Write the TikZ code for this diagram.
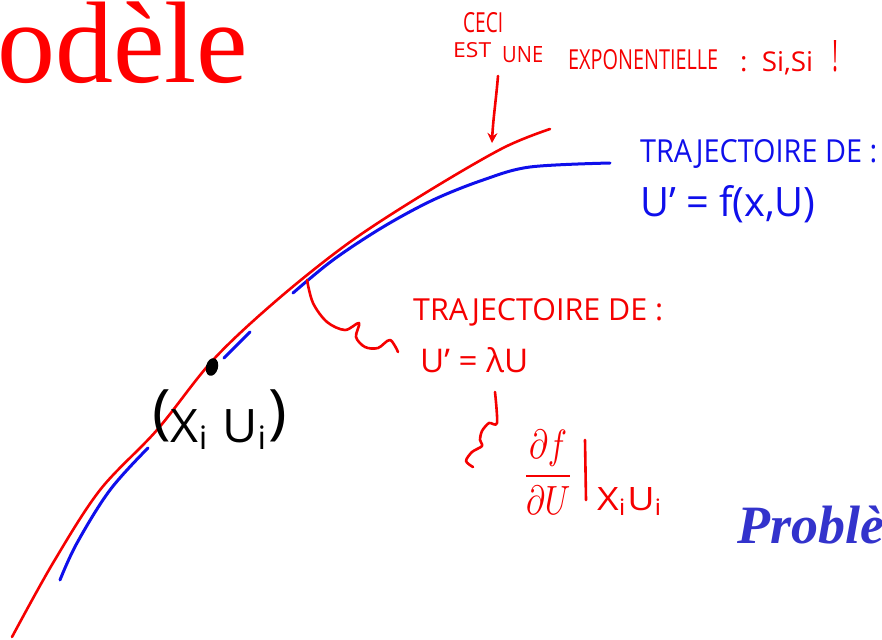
\documentclass[tikz,border=0pt]{standalone}
\usepackage{fontspec}
\usepackage{graphicx}
\setmainfont{Liberation Serif}
\newfontfamily\hand{Open Sans}
\usetikzlibrary{arrows.meta,shapes.geometric}
\definecolor{hred}{RGB}{245,0,0}
\definecolor{hblue}{RGB}{15,15,235}
\definecolor{pblue}{RGB}{51,51,204}
\newcommand\handtxt[3]{\resizebox{#1pt}{#2pt}{\hand #3}}
\begin{document}
\begin{tikzpicture}[x=1pt,y=-1pt,
  lbl/.style={inner sep=0pt, anchor=base west},
  redink/.style={draw=hred, line width=2.6pt, line cap=round, line join=round},
  blueink/.style={draw=hblue, line width=3pt, line cap=round, line join=round}]
\useasboundingbox (0,0) rectangle (882,639);

% slide titles (cut off)
\node[lbl, text=red, font=\fontsize{116}{116}\selectfont] (title) at (-3,83) {odèle};
\node[lbl, text=pblue, font=\fontsize{54}{54}\selectfont\bfseries\itshape] (prob) at (737,543) {Problè};

% red trajectory (u' = lambda u)
\draw[redink] plot[smooth, tension=0.55] coordinates {(12,637) (53,563) (100,490) (157,430) (213,360) (277,300) (350,242) (427,192) (503,148) (550,129)};

% blue trajectory (u' = f(x,u))
\draw[blueink] plot[smooth, tension=0.6] coordinates {(60,580) (77,543) (110,490) (148,448)};
\draw[blueink] (224,358) -- (250,332);
\draw[blueink] plot[smooth, tension=0.55] coordinates {(293,293) (333,260) (383,227) (433,200) (483,180) (530,167) (610,163)};

% point (x_i, u_i)
\node[ellipse, fill=black, inner sep=0pt, minimum width=12pt, minimum height=18pt, rotate=-15] (dot) at (212,367) {};
\node[lbl] (pt) at (152,442) {\handtxt{135}{52}{\raisebox{0.2em}{\scalebox{1.3}{(}}X\textsubscript{i} U\textsubscript{i}\raisebox{0.2em}{\scalebox{1.3}{)}}}};

% top red note
\node[lbl, text=hred] (ceci) at (463,33) {\handtxt{40}{20}{CECI}};
\node[lbl, text=hred] (est) at (453,58) {\handtxt{38}{15}{EST}};
\node[lbl, text=hred] (une) at (502,63) {\handtxt{41}{16}{UNE}};
\node[lbl, text=hred] (expo) at (568,70) {\handtxt{150}{20}{EXPONENTIELLE}};
\node[lbl, text=hred] (sisi) at (740,72) {\handtxt{73}{20}{:\, Si,Si}};
\node[lbl, text=hred] (excl) at (832,72) {\handtxt{6}{31}{!}};
\coordinate (arrtail) at (498,76);
\coordinate (arrtip) at (492,143);
\draw[redink, -{Stealth[length=10pt,width=10pt]}] (arrtail) .. controls (496,100) and (493,120) .. (arrtip);

% blue note
\node[lbl, text=hblue] (tbl) at (640,162) {\handtxt{237}{23}{TRAJECTOIRE DE :}};
\node[lbl, text=hblue] (eqbl) at (640,216) {\handtxt{175}{31}{U’ = f(x,U)}};

% red note
\node[lbl, text=hred] (trd) at (413,320) {\handtxt{250}{22}{TRAJECTOIRE DE :}};
\node[lbl, text=hred] (eqrd) at (420,372) {\handtxt{108}{25}{U’ = λU}};
\coordinate (sqa) at (307,280);
\coordinate (sqb) at (398,352);
\draw[redink] plot[smooth, tension=0.55] coordinates {(sqa) (313,303) (327,322) (345,330) (359,323) (356,337) (365,347) (378,348) (390,340) (sqb)};

% jacobian
\coordinate (bra) at (495,392);
\coordinate (brb) at (473,467);
\draw[redink] plot[smooth, tension=0.5] coordinates {(bra) (497,423) (489,423) (482,431) (480,440) (482,446) (472,452) (466,461) (brb)};
\node[inner sep=0pt, anchor=north west, text=hred] (frac) at (522,430) {\resizebox*{52pt}{84pt}{$\displaystyle\frac{\partial f}{\partial U}$}};
\draw[redink] (585,440) -- (586,500);
\node[lbl, text=hred] (sub) at (597,510) {\handtxt{66}{23}{X\textsubscript{i}U\textsubscript{i}}};
\end{tikzpicture}
\end{document}
